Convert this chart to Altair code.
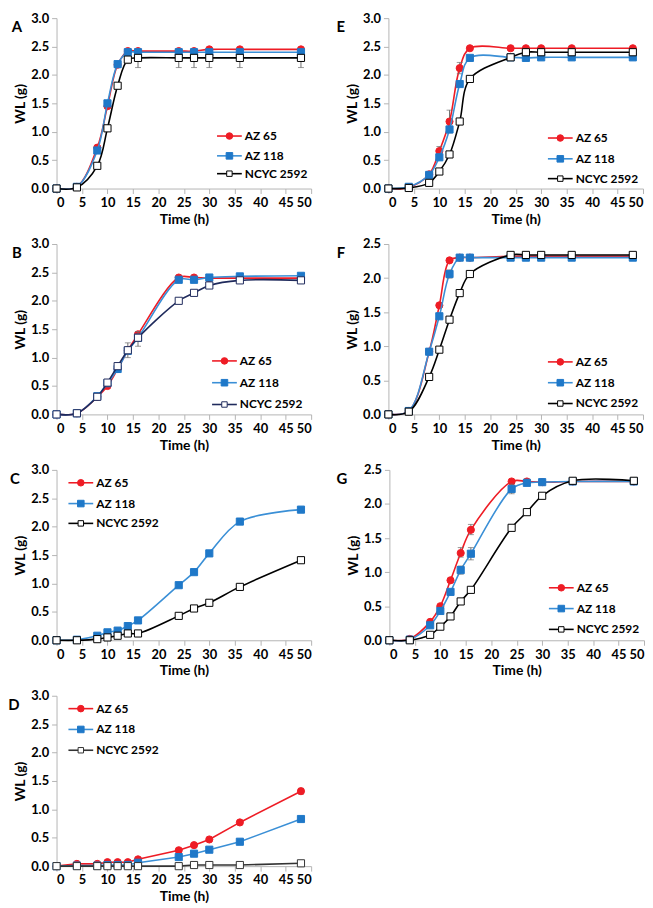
import altair as alt
import pandas as pd

TIME = [0, 4, 8, 10, 12, 14, 16, 24, 27, 30, 36, 48]
SERIES = ["AZ 65", "AZ 118", "NCYC 2592"]

A_AZ65 = [0, 0.03, 0.72, 1.45, 2.18, 2.42, 2.42, 2.42, 2.42, 2.45, 2.45, 2.45]
A_AZ118 = [0, 0.03, 0.67, 1.50, 2.19, 2.40, 2.40, 2.40, 2.40, 2.40, 2.40, 2.40]
A_NCYC = [0, 0.02, 0.40, 1.06, 1.81, 2.27, 2.30, 2.30, 2.30, 2.30, 2.30, 2.30]

B_AZ65 = [0, 0.02, 0.31, 0.50, 0.80, 1.13, 1.41, 2.41, 2.41, 2.40, 2.40, 2.40]
B_AZ118 = [0, 0.02, 0.32, 0.55, 0.80, 1.12, 1.35, 2.37, 2.37, 2.41, 2.43, 2.44]
B_NCYC = [0, 0.02, 0.31, 0.56, 0.85, 1.13, 1.35, 2.00, 2.14, 2.27, 2.36, 2.36]

C_AZ65 = []
C_AZ118 = [0, 0.01, 0.08, 0.14, 0.17, 0.25, 0.35, 0.97, 1.20, 1.53, 2.09, 2.30]
C_NCYC = [0, 0.00, 0.02, 0.05, 0.08, 0.12, 0.12, 0.43, 0.56, 0.66, 0.94, 1.41]

D_AZ65 = [0, 0.04, 0.04, 0.07, 0.07, 0.07, 0.12, 0.28, 0.37, 0.47, 0.77, 1.32]
D_AZ118 = [0, 0.01, 0.01, 0.02, 0.02, 0.02, 0.06, 0.16, 0.22, 0.29, 0.43, 0.83]
D_NCYC = [0, 0, 0, 0, 0, 0, 0, 0, 0.02, 0.02, 0.02, 0.05]

E_AZ65 = [0, 0.02, 0.25, 0.66, 1.18, 2.12, 2.47, 2.47, 2.47, 2.47, 2.47, 2.47]
E_AZ118 = [0, 0.03, 0.24, 0.55, 1.04, 1.84, 2.30, 2.31, 2.30, 2.31, 2.31, 2.31]
E_NCYC = [0, 0.01, 0.10, 0.30, 0.60, 1.18, 1.93, 2.31, 2.40, 2.40, 2.40, 2.40]

F_AZ65 = [0, 0.05, 0.92, 1.60, 2.26, 2.30, 2.30, 2.32, 2.32, 2.32, 2.32, 2.32]
F_AZ118 = [0, 0.05, 0.92, 1.44, 2.06, 2.30, 2.30, 2.30, 2.30, 2.30, 2.30, 2.30]
F_NCYC = [0, 0.04, 0.55, 0.95, 1.39, 1.78, 2.06, 2.34, 2.34, 2.34, 2.34, 2.34]

G_AZ65 = [0, 0.02, 0.27, 0.50, 0.88, 1.28, 1.62, 2.33, 2.33, 2.32, 2.33, 2.33]
G_AZ118 = [0, 0.01, 0.22, 0.43, 0.71, 1.03, 1.27, 2.22, 2.31, 2.32, 2.33, 2.33]
G_NCYC = [0, 0.00, 0.08, 0.20, 0.35, 0.57, 0.74, 1.65, 1.88, 2.12, 2.34, 2.34]

# error bars: (series, time, low, high)
A_ERR = [("NCYC 2592", 14, 2.20, 2.27), ("NCYC 2592", 16, 2.13, 2.30),
         ("NCYC 2592", 24, 2.13, 2.30), ("NCYC 2592", 27, 2.13, 2.30),
         ("NCYC 2592", 30, 2.13, 2.30), ("NCYC 2592", 36, 2.13, 2.30),
         ("NCYC 2592", 48, 2.13, 2.30)]
B_ERR = [("AZ 118", 12, 0.74, 0.86), ("NCYC 2592", 14, 1.00, 1.26),
         ("NCYC 2592", 16, 1.20, 1.46)]
C_ERR = []
D_ERR = [("AZ 65", 48, 1.27, 1.37)]
E_ERR = [("AZ 65", 10, 0.58, 0.74), ("AZ 65", 12, 0.98, 1.38),
         ("AZ 65", 14, 2.02, 2.22)]
F_ERR = [("AZ 118", 12, 2.00, 2.12)]
G_ERR = [("AZ 65", 14, 1.22, 1.36), ("AZ 65", 16, 1.55, 1.70),
         ("AZ 118", 14, 0.97, 1.09), ("AZ 118", 16, 1.18, 1.36),
         ("AZ 118", 24, 2.15, 2.29)]

FONT = "Lato"
W, H = 257, 172
RED = "#ee1c25"
BLUE = "#1f78c8"
BLUE_LINE = "#3a8fd6"
AXIS_GRAY = "#b4b4b4"


def style(series, ncyc_color):
    if series == "AZ 65":
        return dict(line=RED, shape="circle", fill=RED, stroke=RED)
    if series == "AZ 118":
        return dict(line=BLUE_LINE, shape="square", fill=BLUE, stroke=BLUE)
    return dict(line=ncyc_color, shape="square", fill="white", stroke=ncyc_color)


def panel(letter, data, errs, ymax, leg_x, leg_y, interp, letter_x, ncyc_color="black"):
    x_axis = alt.Axis(values=list(range(0, 51, 5)), title="Time (h)", grid=False,
                      tickSize=5, labelPadding=3, titlePadding=3)
    yvals = [i * 0.5 for i in range(int(round(ymax / 0.5)) + 1)]
    y_axis = alt.Axis(values=yvals, format=".1f", title="WL (g)", grid=False,
                      tickSize=5, labelPadding=3, titlePadding=3)
    xs = alt.Scale(domain=[0, 50], nice=False)
    ys = alt.Scale(domain=[0, ymax], nice=False)

    layers = []
    for s, vals in zip(SERIES, data):
        if not vals:
            continue
        st = style(s, ncyc_color)
        df = pd.DataFrame({"t": TIME, "wl": vals})
        layers.append(
            alt.Chart(df).mark_line(color=st["line"], strokeWidth=1.6, interpolate=interp)
            .encode(x=alt.X("t:Q", scale=xs, axis=x_axis), y=alt.Y("wl:Q", scale=ys, axis=y_axis))
        )
        e = [r for r in errs if r[0] == s]
        if e:
            edf = pd.DataFrame({"t": [r[1] for r in e], "lo": [r[2] for r in e], "hi": [r[3] for r in e]})
            layers.append(
                alt.Chart(edf).mark_rule(color="#6e6e6e", strokeWidth=1)
                .encode(x=alt.X("t:Q", scale=xs, axis=x_axis),
                        y=alt.Y("lo:Q", scale=ys, axis=y_axis), y2="hi:Q")
            )
            for f in ["lo", "hi"]:
                layers.append(
                    alt.Chart(edf).mark_tick(color="#6e6e6e", orient="horizontal", size=6, thickness=1)
                    .encode(x=alt.X("t:Q", scale=xs, axis=x_axis),
                            y=alt.Y(f + ":Q", scale=ys, axis=y_axis))
                )
        layers.append(
            alt.Chart(df).mark_point(shape=st["shape"], filled=True, fill=st["fill"],
                                     stroke=st["stroke"], strokeWidth=1, size=52, opacity=1)
            .encode(x=alt.X("t:Q", scale=xs, axis=x_axis), y=alt.Y("wl:Q", scale=ys, axis=y_axis))
        )

    # legend
    for s, ly in zip(SERIES, leg_y):
        st = style(s, ncyc_color)
        ldf = pd.DataFrame({"label": [s]})
        layers.append(
            alt.Chart(ldf).mark_rule(color=st["line"], strokeWidth=1.6)
            .encode(x=alt.value(leg_x), x2=alt.value(leg_x + 25), y=alt.value(ly))
        )
        layers.append(
            alt.Chart(ldf).mark_point(shape=st["shape"], filled=True, fill=st["fill"],
                                      stroke=st["stroke"], strokeWidth=1,
                                      size=44 if s != "NCYC 2592" else 30, opacity=1)
            .encode(x=alt.value(leg_x + 12.5), y=alt.value(ly))
        )
        layers.append(
            alt.Chart(ldf).mark_text(align="left", baseline="middle", font=FONT,
                                     fontWeight="bold", fontSize=12, color="black")
            .encode(x=alt.value(leg_x + 28), y=alt.value(ly), text="label:N")
        )

    layers.append(
        alt.Chart(pd.DataFrame({"letter": [letter]})).mark_text(
            font=FONT, fontWeight="bold", fontSize=15, color="black", baseline="middle")
        .encode(x=alt.value(letter_x), y=alt.value(9), text="letter:N")
    )
    return alt.layer(*layers).properties(width=W, height=H)


pA = panel("A", [A_AZ65, A_AZ118, A_NCYC], A_ERR, 3.0, 162, [119, 139, 157], "catmull-rom", -40)
pB = panel("B", [B_AZ65, B_AZ118, B_NCYC], B_ERR, 3.0, 157, [118, 140, 162], "catmull-rom", -40, ncyc_color="#1f2a5c")
pC = panel("C", [C_AZ65, C_AZ118, C_NCYC], C_ERR, 3.0, 12, [13, 34, 54], "catmull-rom", -42)
pD = panel("D", [D_AZ65, D_AZ118, D_NCYC], D_ERR, 3.0, 12, [13, 34, 55], "linear", -43, ncyc_color="#333333")
pE = panel("E", [E_AZ65, E_AZ118, E_NCYC], E_ERR, 3.0, 161, [121, 142, 162], "catmull-rom", -48)
pF = panel("F", [F_AZ65, F_AZ118, F_NCYC], F_ERR, 2.5, 161, [119, 140, 161], "catmull-rom", -48)
pG = panel("G", [G_AZ65, G_AZ118, G_NCYC], G_ERR, 2.5, 161, [119, 140, 161], "catmull-rom", -48)

chart = alt.vconcat(
    alt.hconcat(pA, pE, spacing=24),
    alt.hconcat(pB, pF, spacing=24),
    alt.hconcat(pC, pG, spacing=24),
    pD,
    spacing=12,
).properties(padding=0, background="white").configure_view(stroke=None).configure_axis(
    labelFont=FONT, labelFontWeight="bold", labelFontSize=13, labelColor="black",
    titleFont=FONT, titleFontWeight="bold", titleFontSize=14, titleColor="black",
    domainColor=AXIS_GRAY, tickColor=AXIS_GRAY, domainWidth=1, tickWidth=1,
)

chart.save("out.html", embed_options={"renderer": "svg", "actions": False})
